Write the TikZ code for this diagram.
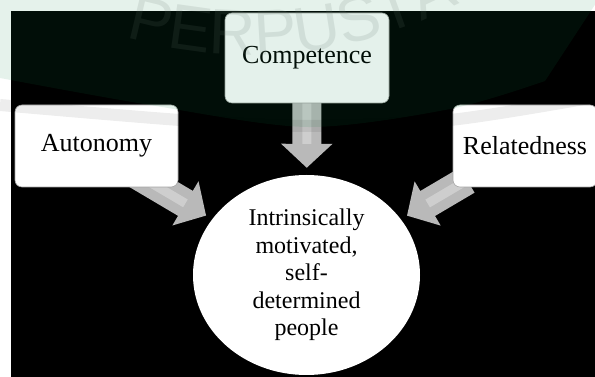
\documentclass[tikz,border=0pt]{standalone}
\usepackage{fontspec}
\setmainfont{Liberation Serif}
\newfontfamily\wmfont{Liberation Sans}
\usetikzlibrary{arrows.meta, shapes.geometric, decorations.text}

\pgfdeclarelayer{behind}
\pgfsetlayers{behind,main}

\definecolor{wmgreen}{RGB}{18,136,73}
\definecolor{wmgray}{RGB}{100,115,108}

\begin{document}
\begin{tikzpicture}[x=1pt, y=1pt]
\tikzset{ >=latex,
  need/.style={draw=gray!70, line width=0.6pt, fill=white, rounded corners=7pt,
    inner sep=0pt, font=\fontsize{26}{30}\selectfont},
  core/.style={ellipse, fill=white, inner sep=0pt, minimum width=227pt,
    minimum height=200pt, align=center, font=\fontsize{24}{27.5}\selectfont},
  bigarrow/.style={draw=gray!55!white, line width=29pt,
    -{Triangle[length=24pt, width=50pt]}, shorten >=7pt, shorten <=-14pt,
    postaction={draw=white, opacity=0.3, line width=9pt, -, shorten >=31pt, shorten <=-14pt}},
}

\useasboundingbox (0,0) rectangle (595,377);

% needs
\node [need, minimum width=164pt, minimum height=90pt] (comp) at (307,319)   {Competence};
\node [need, minimum width=163pt, minimum height=82pt] (auto) at (96.5,231)  {Autonomy};
\node [need, minimum width=144pt, minimum height=82pt] (rel)  at (525,231)   {Relatedness};

% centre
\node [core] (core) at (306.5,102) {Intrinsically\\motivated,\\self-\\determined\\people};

% dark panel + arrows, under the boxes
\begin{pgfonlayer}{behind}
\fill [black] (11,0) rectangle (595,366);
\draw [bigarrow] (comp) -- (core);
\draw [bigarrow] ([xshift=-8pt]auto.center) -- (core);
\draw [bigarrow] (rel)  -- (core);
\end{pgfonlayer}

% watermark on top
\fill [wmgreen, opacity=0.11] (-5,380) -- (-5,299)
  -- plot [smooth] coordinates {(0,299) (150,272) (307,250) (450,268) (545,296)}
  -- (600,380) -- cycle;
\draw [black, opacity=0.07, line width=12pt]
  plot [smooth] coordinates {(0,272) (180,257) (307,251) (450,257) (595,280)};
\begin{scope}[opacity=0.15]
\path [decorate, decoration={text along path, text align=left,
    text={|\wmfont\fontsize{64}{64}\selectfont\color{wmgray}|PERPUSTA}}]
  (125.2,339.6) arc [start angle=253.9, end angle=300, radius=450];
\end{scope}

\end{tikzpicture}
\end{document}
